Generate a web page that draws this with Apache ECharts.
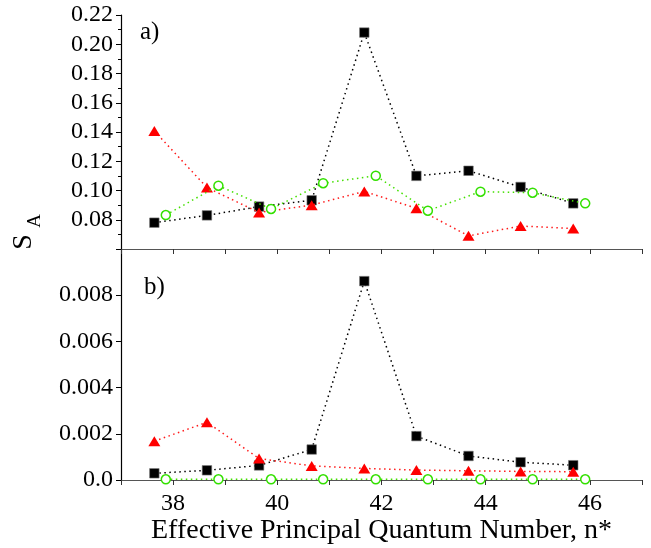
<!DOCTYPE html>
<html>
<head>
<meta charset="utf-8">
<script src="https://cdn.jsdelivr.net/npm/echarts@6/dist/echarts.min.js"></script>
<style>html,body{margin:0;padding:0;background:#fff;}#c{width:651px;height:548px;}</style>
</head>
<body>
<div id="c"></div>
<script>
// x positions (effective principal quantum number)
const nSquare = [37.64, 38.65, 39.65, 40.66, 41.67, 42.67, 43.67, 44.67, 45.68];
const nCircle = [37.86, 38.87, 39.88, 40.88, 41.89, 42.89, 43.90, 44.90, 45.91];
// panel a
const squareA = [0.078, 0.083, 0.089, 0.0933, 0.208, 0.110, 0.1135, 0.1024, 0.0912];
const triangleA = [0.1407, 0.102, 0.085, 0.090, 0.0994, 0.0878, 0.069, 0.0757, 0.074];
const circleA = [0.0832, 0.1033, 0.0874, 0.105, 0.1101, 0.0862, 0.0992, 0.0985, 0.0912];
// panel b
const squareB = [0.00029, 0.00042, 0.00063, 0.00132, 0.00861, 0.0019, 0.00104, 0.00077, 0.00064];
const triangleB = [0.00168, 0.0025, 0.00093, 0.00061, 0.0005, 0.00043, 0.0004, 0.00037, 0.00036];
const circleB = [0.00003, 0.00003, 0.00003, 0.00003, 0.00003, 0.00003, 0.00003, 0.00003, 0.00003];
const xTickLabels = ['38', '40', '42', '44', '46'];

const FONT = 'Liberation Serif';
const zip = (xs, ys) => xs.map((x, i) => [x, ys[i]]);

function mkSeries(xIdx, data, kind) {
  const base = { type: 'line', xAxisIndex: xIdx, yAxisIndex: xIdx, data: data, symbolKeepAspect: true };
  if (kind === 'sq') {
    return Object.assign(base, {
      symbol: 'rect', symbolSize: 9.5, z: 2,
      itemStyle: { color: '#000', borderColor: '#777', borderWidth: 0.6 },
      lineStyle: { color: '#000', width: 1.5, type: [1.5, 3.5] }
    });
  }
  if (kind === 'tri') {
    return Object.assign(base, {
      symbol: 'triangle', symbolSize: [12, 10], z: 3,
      itemStyle: { color: '#ff0000' },
      lineStyle: { color: '#ff1a1a', width: 1.5, type: [1.5, 3.5] }
    });
  }
  return Object.assign(base, {
    symbol: 'circle', symbolSize: 9, z: 4,
    itemStyle: { color: '#fff', borderColor: '#33e000', borderWidth: 1.5 },
    lineStyle: { color: '#44e000', width: 1.5, type: [1.5, 3.5] }
  });
}

const xBase = {
  type: 'value', min: 37, max: 47, interval: 1,
  splitLine: { show: false },
  axisLine: { lineStyle: { color: '#555', width: 1.2 } },
  axisTick: { show: true, inside: false, length: 5, lineStyle: { color: '#333' } }
};

const chart = echarts.init(document.getElementById('c'), null, { renderer: 'canvas' });
chart.setOption({
  animation: false,
  backgroundColor: '#fff',
  grid: [
    { left: 121, right: 9, top: 15, height: 234 },
    { left: 121, right: 9, top: 249, height: 231 }
  ],
  xAxis: [
    Object.assign({}, xBase, { gridIndex: 0, axisLabel: { show: false } }),
    Object.assign({}, xBase, {
      gridIndex: 1,
      axisLabel: {
        show: true, margin: 12, color: '#000', fontFamily: FONT, fontSize: 24,
        formatter: v => (xTickLabels.indexOf(String(v)) >= 0 ? String(v) : '')
      },
      name: 'Effective Principal Quantum Number, n*',
      nameLocation: 'middle', nameGap: 36,
      nameTextStyle: { color: '#000', fontFamily: FONT, fontSize: 28 }
    })
  ],
  yAxis: [
    {
      type: 'value', gridIndex: 0, min: 0.06, max: 0.22, interval: 0.02,
      splitLine: { show: false },
      axisLine: { show: true, lineStyle: { color: '#000', width: 1.2 } },
      axisTick: { show: true, length: 5, lineStyle: { color: '#000' } },
      minorTick: { show: true, splitNumber: 2, length: 3, lineStyle: { color: '#000' } },
      axisLabel: {
        margin: 8, color: '#000', fontFamily: FONT, fontSize: 24,
        formatter: v => (Math.abs(v - 0.06) < 1e-9 ? '' : v.toFixed(2))
      }
    },
    {
      type: 'value', gridIndex: 1, min: 0, max: 0.01, interval: 0.002,
      splitLine: { show: false },
      axisLine: { show: true, lineStyle: { color: '#000', width: 1.2 } },
      axisTick: { show: true, length: 5, lineStyle: { color: '#000' } },
      axisLabel: {
        margin: 8, color: '#000', fontFamily: FONT, fontSize: 24,
        formatter: v => (v === 0 ? '0.0' : (Math.abs(v - 0.01) < 1e-9 ? '' : v.toFixed(3)))
      }
    }
  ],
  graphic: [
    { type: 'text', left: 140, top: 20, style: { text: 'a)', fontFamily: FONT, fontSize: 25, fill: '#000' } },
    { type: 'text', left: 144, top: 275, style: { text: 'b)', fontFamily: FONT, fontSize: 25, fill: '#000' } },
    { type: 'text', x: 24, y: 242, rotation: Math.PI / 2,
      style: { text: 'S', fontFamily: FONT, fontSize: 28, fill: '#000', align: 'center', verticalAlign: 'middle' } },
    { type: 'text', x: 35, y: 221, rotation: Math.PI / 2,
      style: { text: 'A', fontFamily: FONT, fontSize: 19, fill: '#000', align: 'center', verticalAlign: 'middle' } }
  ],
  series: [
    mkSeries(0, zip(nSquare, squareA), 'sq'),
    mkSeries(0, zip(nSquare, triangleA), 'tri'),
    mkSeries(0, zip(nCircle, circleA), 'ci'),
    mkSeries(1, zip(nSquare, squareB), 'sq'),
    mkSeries(1, zip(nSquare, triangleB), 'tri'),
    mkSeries(1, zip(nCircle, circleB), 'ci')
  ]
});
</script>
</body>
</html>
